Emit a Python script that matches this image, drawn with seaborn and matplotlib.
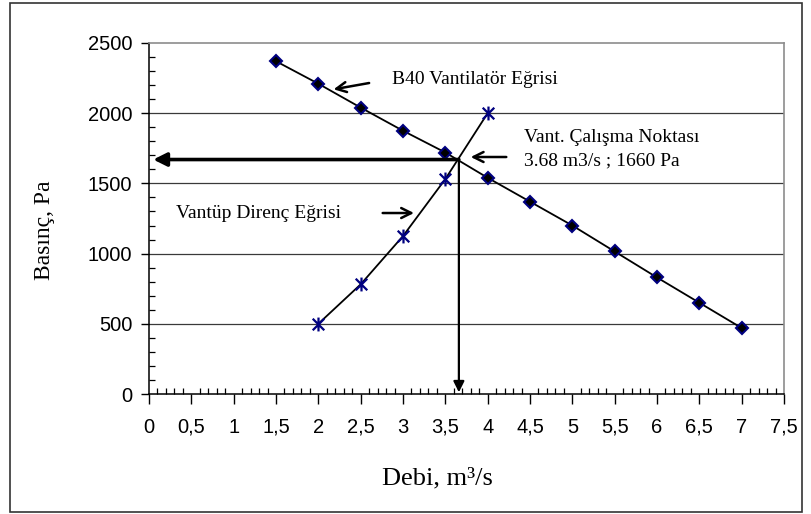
import numpy as np
import pandas as pd
import matplotlib
matplotlib.use("Agg")
import matplotlib.pyplot as plt
from matplotlib.path import Path
from matplotlib.patches import Rectangle
from matplotlib.ticker import MultipleLocator, FuncFormatter
import seaborn as sns

# ---- data ----
fan_q = [1.5, 2.0, 2.5, 3.0, 3.5, 4.0, 4.5, 5.0, 5.5, 6.0, 6.5, 7.0]
fan_p = [2370, 2210, 2040, 1875, 1720, 1540, 1370, 1200, 1015, 830, 650, 470]
duct_q = [2.0, 2.5, 3.0, 3.5, 4.0]
duct_p = [500, 781, 1125, 1531, 2000]
op_q, op_p = 3.66, 1670

label_fan = "B40 Vantilatör Eğrisi"
label_duct = "Vantüp Direnç Eğrisi"
label_op1 = "Vant. Çalışma Noktası"
label_op2 = "3.68 m3/s ; 1660 Pa"

fan_df = pd.DataFrame({"q": fan_q, "p": fan_p})
duct_df = pd.DataFrame({"q": duct_q, "p": duct_p})

sans = ["Liberation Sans", "DejaVu Sans"]
serif = ["Liberation Serif", "DejaVu Serif"]

fig = plt.figure(figsize=(8.12, 5.14), dpi=100)
fig.patch.set_facecolor("white")
ax = fig.add_axes([149 / 812, 1 - 394 / 514, (784 - 149) / 812, (394 - 43) / 514])

# asterisk marker (X + vertical bar)
star = Path([(-1, -1), (1, 1), (-1, 1), (1, -1), (0, -1.2), (0, 1.2)],
            [Path.MOVETO, Path.LINETO, Path.MOVETO, Path.LINETO, Path.MOVETO, Path.LINETO])

ax.set_xlim(0, 7.5)
ax.set_ylim(0, 2500)
for y in [500, 1000, 1500, 2000]:
    ax.axhline(y, color="#3a3a3a", lw=0.9, zorder=0)

sns.lineplot(data=fan_df, x="q", y="p", ax=ax, color="black", lw=1.3,
             marker="D", markersize=5.8, markerfacecolor="black",
             markeredgecolor="#000080", markeredgewidth=1.5, zorder=3)
sns.lineplot(data=duct_df, x="q", y="p", ax=ax, color="black", lw=1.3,
             marker=star, markersize=10, markeredgecolor="#000080",
             markerfacecolor="none", markeredgewidth=1.6, zorder=3)

ax.set_xlabel("")
ax.set_ylabel("")

# spines
for s in ["left", "bottom"]:
    ax.spines[s].set_color("black")
    ax.spines[s].set_linewidth(1.1)
for s in ["top", "right"]:
    ax.spines[s].set_color("#8c8c8c")
    ax.spines[s].set_linewidth(1.2)

ax.xaxis.set_major_locator(MultipleLocator(0.5))
ax.xaxis.set_minor_locator(MultipleLocator(0.1))
ax.yaxis.set_major_locator(MultipleLocator(500))
ax.yaxis.set_minor_locator(MultipleLocator(100))
ax.xaxis.set_major_formatter(FuncFormatter(lambda v, p: ("%g" % v).replace(".", ",")))
ax.tick_params(axis="x", which="major", direction="out", length=7, width=1, pad=10, labelsize=14.5)
ax.tick_params(axis="x", which="minor", direction="in", length=4, width=0.9)
ax.tick_params(axis="y", which="major", direction="out", length=6, width=1, pad=6, labelsize=14.5)
ax.tick_params(axis="y", which="minor", direction="in", length=4, width=0.9)
for lab in ax.get_xticklabels() + ax.get_yticklabels():
    lab.set_family(sans)

# arrows
ax.annotate("", xy=(0.05, op_p), xytext=(op_q, op_p),
            arrowprops=dict(arrowstyle="-|>", lw=2.6, color="black",
                            mutation_scale=20, shrinkA=0, shrinkB=0), zorder=4)
ax.annotate("", xy=(op_q, 12), xytext=(op_q, op_p),
            arrowprops=dict(arrowstyle="-|>", lw=1.6, color="black",
                            mutation_scale=16, shrinkA=0, shrinkB=0), zorder=4)
small = dict(arrowstyle="->", lw=1.8, color="black", mutation_scale=18, shrinkA=0, shrinkB=0)
ax.annotate("", xy=(2.18, 2170), xytext=(2.6, 2215), arrowprops=small)
ax.annotate("", xy=(3.8, 1688), xytext=(4.22, 1688), arrowprops=small)
ax.annotate("", xy=(3.13, 1289), xytext=(2.76, 1289), arrowprops=small)

# texts
tk = dict(fontsize=14, family=serif, va="center", ha="left", color="black")
ax.text(2.87, 2243, label_fan, **tk)
ax.text(4.43, 1830, label_op1, **tk)
ax.text(4.43, 1660, label_op2, **tk)
ax.text(0.32, 1289, label_duct, **tk)

fig.text(437 / 812, 1 - 478 / 514, "Debi, m³/s", fontsize=19, family=serif,
         ha="center", va="center")
fig.text(45 / 812, 1 - 230 / 514, "Basınç, Pa", fontsize=17, family=serif,
         ha="center", va="center", rotation=90)

fig.patches.append(Rectangle((10 / 812, 2 / 514), 792 / 812, 509 / 514,
                             transform=fig.transFigure, fill=False,
                             edgecolor="#333333", lw=1.2))

fig.savefig("out.png", dpi=100, facecolor="white")
